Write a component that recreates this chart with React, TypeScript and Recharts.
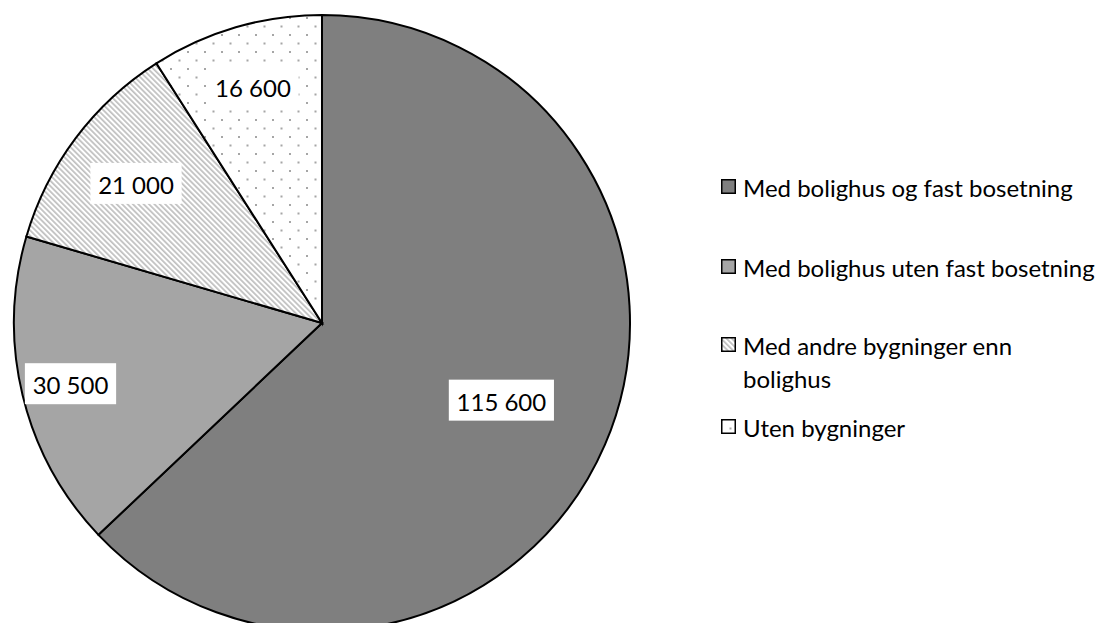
import React from "react";
import { PieChart, Pie, Cell, Legend } from "recharts";

const categories = [
  "Med bolighus og fast bosetning",
  "Med bolighus uten fast bosetning",
  "Med andre bygninger enn bolighus",
  "Uten bygninger",
];
const values = [115600, 30500, 21000, 16600];

const fills = ["#7f7f7f", "#a5a5a5", "url(#hatch)", "url(#dots)"];
// how far out each label sits, as a share of the radius
const labelRadius = [0.634, 0.84, 0.755, 0.8];
const legendGaps = [0, 47, 45, 16];

const data = categories.map((name, i) => ({ name, value: values[i] }));

const FONT = 'Lato, "Open Sans", sans-serif';
const FS = 24;
const RADIAN = Math.PI / 180;

const fmt = (v: number) => String(v).replace(/\B(?=(\d{3})+(?!\d))/g, " ");

const renderLabel = (props: any) => {
  const { cx, cy, midAngle, outerRadius, index, value } = props;
  const r = outerRadius * labelRadius[index];
  const x = cx + r * Math.cos(-midAngle * RADIAN);
  const y = cy + r * Math.sin(-midAngle * RADIAN);
  const text = fmt(value);
  let tw = 0;
  for (const ch of text) tw += ch === " " ? 0.193 * FS : 0.58 * FS;
  const w = tw + 17;
  return (
    <g>
      <rect x={x - w / 2} y={y - 20.5} width={w} height={41} fill="#fff" />
      <text
        x={x}
        y={y + 1}
        textAnchor="middle"
        dominantBaseline="central"
        fontSize={FS}
        fontFamily={FONT}
        fill="#000"
      >
        {text}
      </text>
    </g>
  );
};

const renderLegend = () => (
  <div style={{ fontFamily: FONT, fontSize: FS, color: "#000" }}>
    {categories.map((c, i) => (
      <div
        key={c}
        style={{
          display: "flex",
          alignItems: "flex-start",
          marginTop: legendGaps[i],
          lineHeight: "33px",
        }}
      >
        <svg width={15} height={15} style={{ marginTop: 8, marginRight: 7, flex: "none" }}>
          <rect x={0.75} y={0.75} width={13.5} height={13.5} fill={fills[i]} stroke="#000" strokeWidth={1.5} />
        </svg>
        <span style={{ width: 356 }}>{c}</span>
      </div>
    ))}
  </div>
);

export default function App() {
  return (
    <div style={{ position: "relative", width: 1107, height: 623, background: "#fff", overflow: "hidden" }}>
      <style>{`body{margin:0;}`}</style>
      <svg width={0} height={0} style={{ position: "absolute" }}>
        <defs>
          <pattern id="hatch" patternUnits="userSpaceOnUse" width={4} height={3.8} patternTransform="rotate(45)">
            <rect width={4} height={3.8} fill="#fff" />
            <line x1={0} y1={1} x2={4} y2={1} stroke="#ababab" strokeWidth={1.3} />
          </pattern>
          <pattern id="dots" patternUnits="userSpaceOnUse" width={17} height={17}>
            <rect width={17} height={17} fill="#fff" />
            <rect x={0} y={0} width={2} height={2} fill="#a6a6a6" />
            <rect x={8.5} y={8.5} width={2} height={2} fill="#a6a6a6" />
          </pattern>
        </defs>
      </svg>
      <PieChart width={1107} height={623} margin={{ top: 0, right: 0, bottom: 0, left: 0 }}>
        <Pie
          data={data}
          dataKey="value"
          nameKey="name"
          cx={322}
          cy={323}
          outerRadius={308}
          startAngle={90}
          endAngle={-270}
          stroke="#000"
          strokeWidth={2}
          label={renderLabel}
          labelLine={false}
          isAnimationActive={false}
        >
          {data.map((d, i) => (
            <Cell key={d.name} fill={fills[i]} />
          ))}
        </Pie>
        <Legend
          layout="vertical"
          align="right"
          verticalAlign="top"
          content={renderLegend}
          wrapperStyle={{ left: 721, top: 170.5, width: 386, right: "auto" }}
        />
      </PieChart>
    </div>
  );
}
